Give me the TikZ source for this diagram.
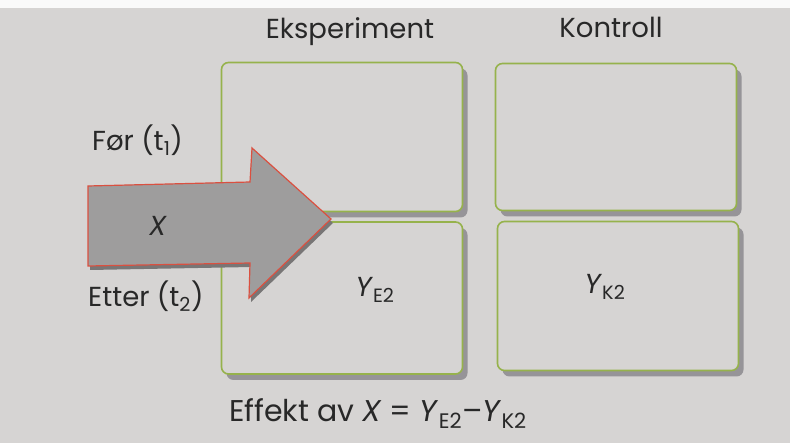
\documentclass[tikz,border=0pt]{standalone}
\usepackage{fontspec}
\setmainfont{Poppins}
\usetikzlibrary{positioning,shadows}
\definecolor{pgBg}{RGB}{214,212,211}
\definecolor{pgTop}{RGB}{250,250,250}
\definecolor{boxGreen}{RGB}{150,178,76}
\definecolor{boxShade}{RGB}{150,148,152}
\definecolor{arrGray}{RGB}{158,157,157}
\definecolor{arrRed}{RGB}{218,80,64}
\definecolor{arrShade}{RGB}{120,118,118}
\definecolor{inkGray}{RGB}{40,40,40}

\begin{document}
\begin{tikzpicture}[
  x=1pt, y=-1pt,
  font=\fontsize{27.5}{32}\selectfont, text=inkGray,
  cell/.style={draw=boxGreen, line width=1.6pt, fill=pgBg, rounded corners=7pt,
    minimum width=241pt, minimum height=#1, inner sep=0pt,
    drop shadow={shadow xshift=5pt, shadow yshift=-6pt, fill=boxShade, opacity=1}},
  lab/.style={inner sep=0pt}
]
% page background, px -> pt
\fill[pgBg] (0,0) rectangle (790,443);
\fill[pgTop] (0,0) rectangle (790,8);
\useasboundingbox (0,0) rectangle (790,443);

% the four cells
\foreach \n/\x/\y/\h in {
  e1/342/137/149pt,
  k1/616/137/147pt,
  e2/342/298/152pt,
  k2/618/296/149pt} {
  \node[cell=\h] (\n) at (\x,\y) {};
}

% column and row heads
\node[lab, anchor=base] (eksp) at (350,39) {Eksperiment};
\node[lab, anchor=base] (kont) at (611,38) {Kontroll};
\node[lab, anchor=west] (foer) at (92,140) {Før (t\textsubscript{1})};
\node[lab, anchor=west] (etter) at (88,296) {Etter (t\textsubscript{2})};

% the treatment arrow
\fill[arrShade] (90,190) -- (252,186) -- (254,152) -- (333,223) -- (251,302) -- (252,267) -- (90,270) -- cycle;
\filldraw[fill=arrGray, draw=arrRed, line width=1.2pt]
  (88,186) -- (250,182) -- (252,148) -- (331,219) -- (249,298) -- (250,263) -- (88,266) -- cycle;
\node[lab] (x) at (158,226) {\textit{X}};

% outcomes
\node[lab] (ye2) at (375,290) {\textit{Y}\textsubscript{E2}};
\node[lab] (yk2) at (605,287) {\textit{Y}\textsubscript{K2}};

\node[lab, anchor=base, font=\fontsize{30}{34}\selectfont] (effekt) at (378,422)
  {Effekt av \textit{X} = \textit{Y}\textsubscript{E2}–\textit{Y}\textsubscript{K2}};
\end{tikzpicture}
\end{document}
